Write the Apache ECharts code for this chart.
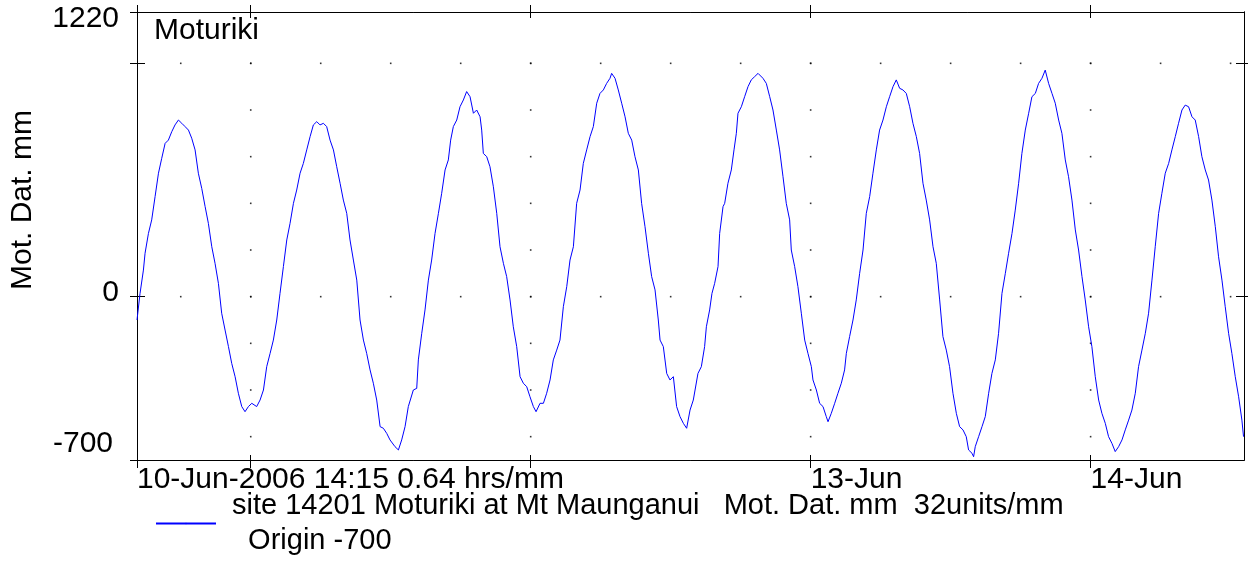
<!DOCTYPE html>
<html>
<head>
<meta charset="utf-8">
<title>Moturiki</title>
<script src="https://cdn.jsdelivr.net/npm/echarts@6/dist/echarts.min.js"></script>
<style>
  html, body { margin: 0; padding: 0; background: #fff; }
  #chart { width: 1248px; height: 571px; }
</style>
</head>
<body>
<div id="chart"></div>
<script>
// time in hours after 10-Jun-2006 00:00
const hours = [
  14.25, 14.51, 14.80, 14.94, 15.23, 15.51, 15.80, 16.09, 16.37, 16.66, 16.94, 17.23, 17.51, 17.80, 18.09, 18.37,
  18.66, 18.94, 19.23, 19.51, 19.80, 20.09, 20.37, 20.66, 20.94, 21.23, 21.51, 21.80, 22.09, 22.37, 22.66, 22.94,
  23.23, 23.51, 23.80, 24.09, 24.51, 24.80, 25.09, 25.37, 25.66, 25.94, 26.23, 26.51, 26.80, 27.09, 27.37, 27.66,
  27.94, 28.23, 28.51, 28.80, 29.09, 29.37, 29.66, 29.94, 30.23, 30.51, 30.80, 31.09, 31.37, 31.66, 31.94, 32.23,
  32.51, 32.80, 33.09, 33.37, 33.66, 33.94, 34.23, 34.51, 34.80, 35.09, 35.37, 35.66, 35.94, 36.37, 36.66, 36.94,
  37.23, 37.51, 37.94, 38.23, 38.37, 38.66, 38.94, 39.23, 39.51, 39.80, 40.09, 40.37, 40.66, 40.94, 41.14, 41.37,
  41.66, 41.94, 42.23, 42.51, 42.80, 43.09, 43.37, 43.66, 43.80, 43.94, 44.23, 44.51, 44.80, 45.09, 45.37, 45.66,
  45.94, 46.23, 46.51, 46.80, 47.09, 47.37, 47.66, 47.94, 48.23, 48.46, 48.80, 49.09, 49.37, 49.66, 49.94, 50.23,
  50.51, 50.80, 51.09, 51.37, 51.66, 51.94, 52.23, 52.51, 52.80, 53.09, 53.37, 53.66, 53.94, 54.23, 54.51, 54.80,
  54.94, 55.23, 55.51, 55.80, 56.09, 56.37, 56.66, 56.94, 57.23, 57.51, 57.80, 58.09, 58.37, 58.66, 58.94, 59.09,
  59.37, 59.66, 59.94, 60.23, 60.51, 60.80, 61.09, 61.37, 61.66, 61.94, 62.34, 62.63, 62.91, 63.06, 63.34, 63.54,
  63.77, 64.06, 64.20, 64.49, 64.63, 64.91, 65.20, 65.43, 65.63, 65.77, 66.06, 66.34, 66.63, 66.91, 67.20, 67.49,
  67.63, 67.91, 68.20, 68.49, 68.77, 69.06, 69.34, 69.63, 69.91, 70.20, 70.34, 70.63, 70.91, 71.20, 71.49, 71.77,
  72.06, 72.20, 72.49, 72.77, 73.06, 73.34, 73.49, 73.77, 74.06, 74.34, 74.63, 74.91, 75.06, 75.34, 75.63, 75.91,
  76.20, 76.49, 76.77, 77.06, 77.34, 77.63, 77.91, 78.20, 78.49, 78.77, 79.06, 79.34, 79.63, 79.91, 80.20, 80.49,
  80.77, 81.06, 81.34, 81.63, 81.91, 82.20, 82.49, 82.77, 83.06, 83.34, 83.63, 83.91, 84.20, 84.49, 84.77, 85.06,
  85.34, 85.54, 85.83, 85.97, 86.11, 86.40, 86.69, 86.97, 87.26, 87.54, 87.83, 88.11, 88.40, 88.69, 88.97, 89.26,
  89.54, 89.83, 90.11, 90.40, 90.69, 90.97, 91.26, 91.54, 91.83, 92.11, 92.40, 92.69, 92.97, 93.26, 93.54, 93.83,
  94.11, 94.40, 94.69, 94.97, 95.26, 95.54, 95.83, 96.11, 96.40, 96.69, 96.97, 97.26, 97.54, 97.83, 98.11, 98.40,
  98.69, 98.97, 99.26, 99.54, 99.83, 100.11, 100.40, 100.69, 100.97, 101.26, 101.54, 101.83, 102.11, 102.40, 102.69, 102.97,
  103.26, 103.54, 103.83, 104.11, 104.40, 104.69, 104.97, 105.26, 105.54, 105.83, 106.11, 106.40, 106.69, 106.97, 107.26, 107.54,
  107.83, 108.11, 108.40, 108.69, 108.97, 109.11
];
// water level, Mot. Dat. mm
const levelMm = [
  -100, 14, 114, 186, 271, 329, 429, 529, 593, 657, 671, 707, 736, 757, 743, 729,
  714, 679, 629, 529, 464, 386, 314, 214, 143, 57, -71, -143, -214, -286, -343, -414,
  -471, -493, -471, -457, -471, -443, -400, -300, -243, -186, -100, 14, 129, 243, 314, 400,
  457, 529, 571, 629, 686, 736, 750, 736, 743, 729, 671, 629, 557, 486, 414, 357,
  243, 157, 71, -100, -186, -243, -314, -371, -443, -557, -564, -586, -614, -643, -657, -614,
  -557, -471, -400, -393, -271, -157, -57, 71, 157, 271, 357, 443, 543, 586, 671, 729,
  757, 814, 843, 879, 857, 786, 800, 771, 714, 614, 600, 557, 471, 357, 214, 143,
  86, -14, -129, -214, -343, -371, -386, -429, -471, -493, -457, -457, -414, -357, -271, -229,
  -186, -43, 43, 157, 214, 400, 457, 571, 629, 686, 729, 829, 871, 886, 914, 936,
  957, 936, 886, 829, 771, 700, 671, 600, 543, 400, 300, 186, 86, 29, -100, -186,
  -214, -329, -357, -343, -471, -514, -543, -564, -486, -443, -329, -300, -214, -129, -57, 14,
  57, 129, 271, 386, 400, 486, 543, 629, 700, 786, 814, 857, 900, 929, 943, 957,
  964, 936, 914, 857, 800, 714, 629, 514, 400, 329, 200, 129, 43, -71, -186, -243,
  -300, -357, -400, -457, -471, -514, -536, -500, -457, -414, -371, -314, -243, -171, -100, -14,
  100, 200, 357, 429, 529, 629, 714, 757, 814, 857, 900, 929, 893, 886, 871, 814,
  743, 686, 614, 486, 414, 329, 214, 143, -14, -171, -229, -300, -414, -500, -557, -571,
  -600, -657, -671, -686, -643, -600, -557, -514, -414, -329, -271, -157, 14, 100, 186, 271,
  371, 486, 614, 714, 786, 857, 871, 914, 936, 971, 914, 871, 829, 757, 700, 586,
  514, 414, 286, 200, 86, -14, -129, -214, -343, -443, -500, -543, -600, -629, -664, -643,
  -614, -571, -529, -486, -414, -300, -229, -157, -71, 71, 214, 357, 443, 529, 571, 629,
  686, 743, 800, 821, 814, 771, 757, 686, 600, 543, 500, 414, 300, 171, 71, -43,
  -157, -243, -343, -429, -529, -600
];

const startHour = 14.25;   // 10-Jun-2006 14:15
const endHour = 109.15;
const dayTicks = [24, 48, 72, 96];
const dayLabels = { 72: '13-Jun', 96: '14-Jun' };
const startLabel = '10-Jun-2006 14:15 0.64 hrs/mm';
const yMin = -700;
const yMax = 1220;
const yTicks = [0, 1000];
const yLabels = [-700, 0, 1220];
const dotHours = [18, 24, 30, 36, 42, 48, 54, 60, 66, 72, 78, 84, 90, 96, 102, 108];
const dotRows = [0, 1000];
const dotLevels = [-600, -400, -200, 0, 200, 400, 600, 800, 1000];
const seriesName = 'site 14201 Moturiki at Mt Maunganui   Mot. Dat. mm  32units/mm';
const originNote = 'Origin -700';

const FONT = '"Liberation Sans", Arial, sans-serif';

// dotted grid
const dots = [];
dotHours.forEach((h) => dotRows.forEach((r) => dots.push([h, r])));
dayTicks.forEach((d) => dotLevels.forEach((l) => dots.push([d, l])));

function xAxisOf(pos, inside, len, ticks, extra) {
  return Object.assign({
    type: 'value',
    position: pos,
    min: startHour,
    max: endHour,
    axisLine: { show: true, onZero: false, lineStyle: { color: '#000', width: 1 } },
    axisTick: { show: true, inside: inside, length: len, customValues: ticks, lineStyle: { color: '#000', width: 1 } },
    axisLabel: { show: false },
    splitLine: { show: false },
  }, extra || {});
}

function yAxisOf(pos, inside, len, ticks, extra) {
  return Object.assign({
    type: 'value',
    position: pos,
    min: yMin,
    max: yMax,
    axisLine: { show: true, onZero: false, lineStyle: { color: '#000', width: 1 } },
    axisTick: { show: true, inside: inside, length: len, customValues: ticks, lineStyle: { color: '#000', width: 1 } },
    axisLabel: { show: false },
    splitLine: { show: false },
  }, extra || {});
}

const chart = echarts.init(document.getElementById('chart'), null, { renderer: 'canvas' });
chart.setOption({
  animation: false,
  backgroundColor: '#fff',
  textStyle: { fontFamily: FONT },
  title: {
    text: 'Moturiki',
    left: 154,
    top: 16,
    padding: 0,
    textStyle: { fontSize: 30, fontWeight: 'normal', fontFamily: FONT, color: '#000' },
  },
  legend: {
    data: [seriesName],
    left: 155,
    top: 479,
    padding: 0,
    itemWidth: 60,
    itemHeight: 2,
    selectedMode: false,
    formatter: (n) => n + '\n  ' + originNote,
    textStyle: { fontSize: 29, fontFamily: FONT, color: '#000', lineHeight: 35, padding: [19, 0, 0, 11] },
  },
  grid: { left: 137, right: 4, top: 12, bottom: 111, containLabel: false, outerBoundsMode: 'none' },
  graphic: [{
    type: 'text',
    x: 22.5,
    y: 200,
    rotation: Math.PI / 2,
    style: { text: 'Mot. Dat. mm', font: '30px ' + FONT, fill: '#000', align: 'center', verticalAlign: 'middle' },
  }],
  xAxis: [
    xAxisOf('bottom', false, 8, [startHour].concat(dayTicks), {
      axisLabel: {
        show: true,
        customValues: [startHour, 72, 96],
        formatter: (v) => (v === startHour ? startLabel : dayLabels[v]),
        align: 'left',
        margin: 5,
        fontSize: 30,
        fontFamily: FONT,
        color: '#000',
      },
    }),
    xAxisOf('bottom', true, 5, dayTicks),
    xAxisOf('top', false, 7, [startHour].concat(dayTicks)),
    xAxisOf('top', true, 6, dayTicks),
  ],
  yAxis: [
    yAxisOf('left', false, 7, [yMin].concat(yTicks, [yMax]), {
      axisLabel: {
        show: true,
        customValues: yLabels,
        margin: 18,
        formatter: (v) => (v === yMax ? '{t|' + v + '}' : v === yMin ? '{b|' + v + '}' : '{m|' + v + '}'),
        rich: {
          t: { fontSize: 30, fontFamily: FONT, color: '#000', padding: [14, 0, 0, 0] },
          m: { fontSize: 30, fontFamily: FONT, color: '#000', padding: [0, 0, 7, 0] },
          b: { fontSize: 30, fontFamily: FONT, color: '#000', padding: [0, 6, 33, 0] },
        },
      },
    }),
    yAxisOf('left', true, 8, yTicks),
    yAxisOf('right', false, 5, yTicks),
    yAxisOf('right', true, 8, yTicks),
  ],
  series: [
    {
      type: 'scatter',
      name: 'grid',
      data: dots,
      symbol: 'rect',
      symbolSize: 1.6,
      itemStyle: { color: '#000' },
      silent: true,
      z: 1,
    },
    {
      type: 'line',
      name: seriesName,
      data: hours.map((h, i) => [h, levelMm[i]]),
      symbol: 'none',
      showSymbol: false,
      lineStyle: { color: '#0000ff', width: 1 },
      itemStyle: { color: '#0000ff' },
      z: 3,
    },
  ],
});
</script>
</body>
</html>
